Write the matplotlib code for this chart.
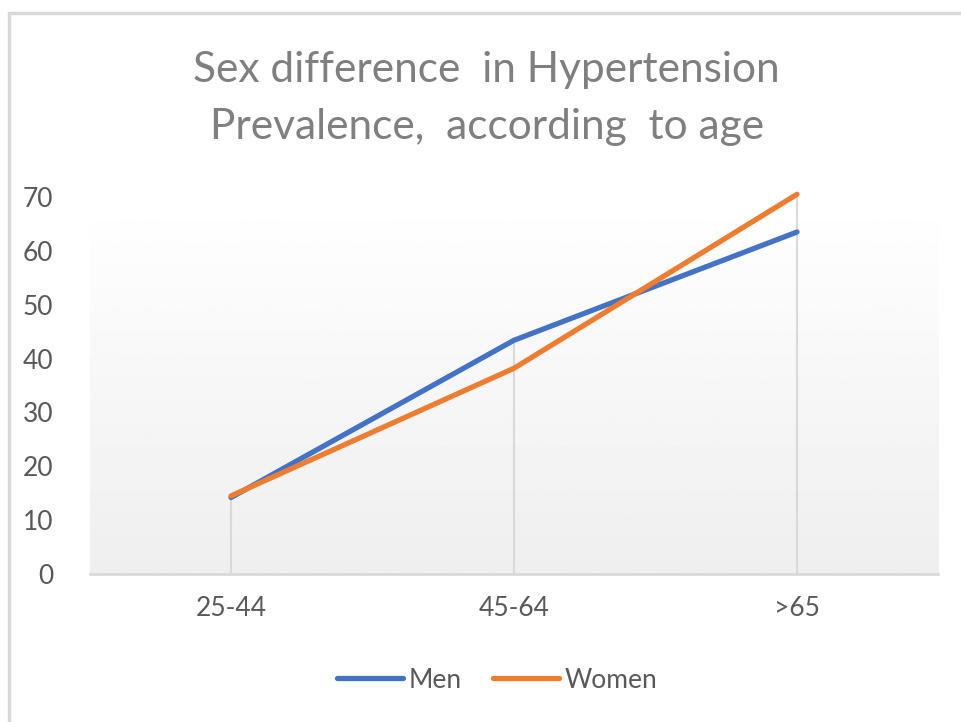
import numpy as np
import matplotlib.pyplot as plt
from matplotlib.patches import Rectangle

# data
age_groups = ['25-44', '45-64', '>65']
men = [14.2, 43.4, 63.5]
women = [14.5, 38.2, 70.5]
yticks = [0, 10, 20, 30, 40, 50, 60, 70]

plt.rcParams['font.family'] = ['Lato', 'DejaVu Sans']

fig = plt.figure(figsize=(9.62, 7.22), dpi=100)
ax = fig.add_axes([89.5 / 962, 1 - 574 / 722, 849 / 962, 377 / 722])

x = np.arange(len(age_groups))

# plot area gradient (white at top, light gray at bottom)
grad = np.linspace(0.935, 1.0, 256).reshape(-1, 1)
ax.imshow(grad, extent=[-0.5, 2.5, 0, 70], origin='lower', aspect='auto',
          cmap='gray', vmin=0, vmax=1, zorder=0)

# drop lines
tops = np.maximum(men, women)
ax.vlines(x, 0, tops, color='#d9d9d9', lw=1.5, zorder=1)

ax.plot(x, men, color='#4472c4', lw=3.8, solid_capstyle='round',
        label='Men', zorder=3, clip_on=False)
ax.plot(x, women, color='#ed7d31', lw=3.8, solid_capstyle='round',
        label='Women', zorder=3, clip_on=False)

ax.set_xlim(-0.5, 2.5)
ax.set_ylim(0, 70)
ax.set_xticks(x)
ax.set_xticklabels(age_groups)
ax.set_yticks(yticks)
ax.tick_params(length=0, labelsize=19, colors='#595959')
ax.tick_params(axis='x', pad=16)
ax.tick_params(axis='y', pad=26)
for side in ['top', 'right', 'left']:
    ax.spines[side].set_visible(False)
ax.spines['bottom'].set_color('#d9d9d9')
ax.spines['bottom'].set_linewidth(2)
ax.spines['bottom'].set_zorder(2)

fig.text(0.506, 1 - 70 / 722, 'Sex difference  in Hypertension', ha='center', va='center',
         fontsize=30.5, color='#7f7f7f')
fig.text(0.506, 1 - 127 / 722, 'Prevalence,  according  to age', ha='center', va='center',
         fontsize=30.5, color='#7f7f7f')

fig.legend(loc='center', bbox_to_anchor=(497 / 962, 1 - 680 / 722), ncol=2,
           frameon=False, fontsize=19, labelcolor='#595959', handlelength=2.5,
           handletextpad=0.2, columnspacing=1.2)

# chart border (left and top edges visible)
fig.patches.append(Rectangle((9 / 962, -0.1), 1.2, 1 - 13 / 722 + 0.1,
                             transform=fig.transFigure, fill=False,
                             edgecolor='#d9d9d9', lw=2.5))

fig.savefig('out.png', dpi=100)
